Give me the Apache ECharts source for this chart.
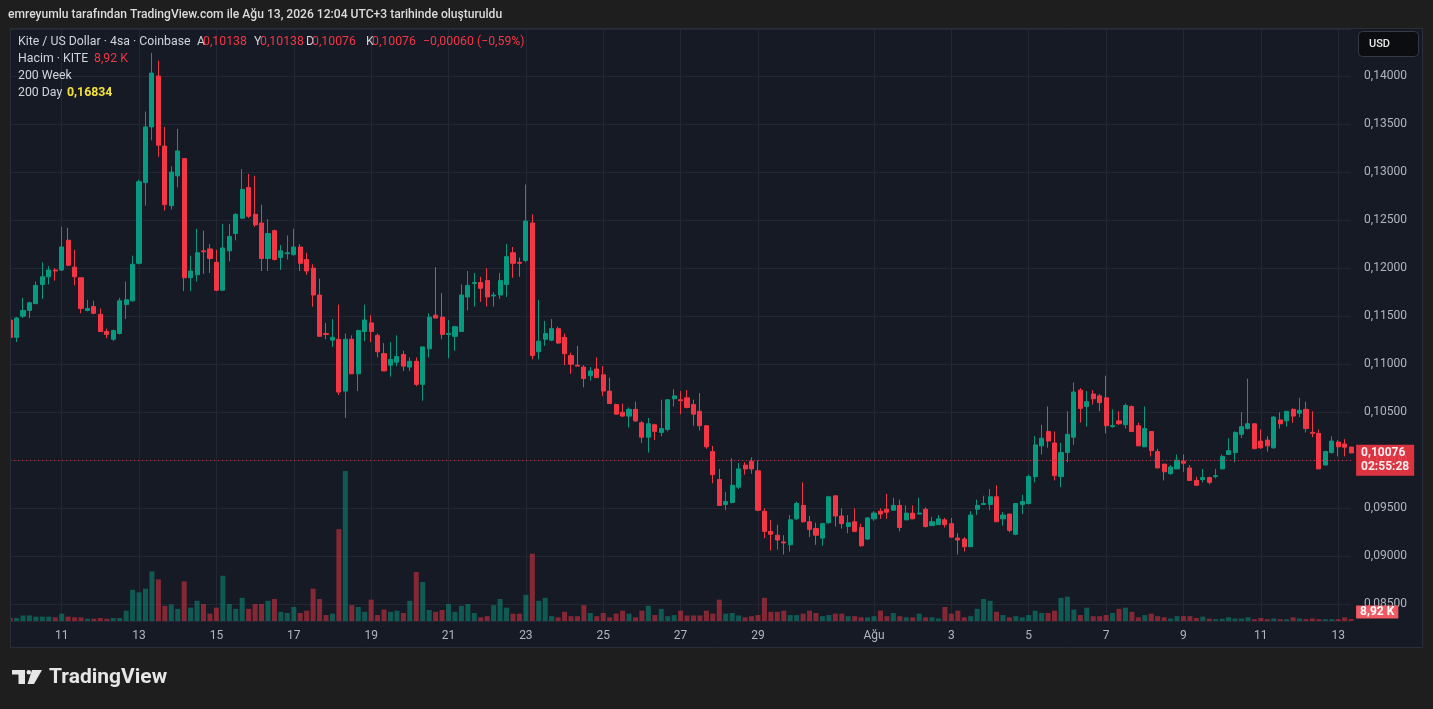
<!DOCTYPE html>
<html><head><meta charset="utf-8">
<script src="https://cdn.jsdelivr.net/npm/echarts@6/dist/echarts.min.js"></script>
<style>html,body{margin:0;padding:0;background:#1e1e1e;}#c{width:1433px;height:709px;}</style>
</head><body><div id="c"></div><script>
const opens = [
0.1146,0.1128,0.1150,0.1156,0.1163,0.1183,0.1191,0.1198,0.1198,0.1229,
0.1201,0.1190,0.1156,0.1160,0.1152,0.1134,0.1126,0.1132,0.1162,0.1166,
0.1205,0.1289,0.1347,0.1400,0.1327,0.1265,0.1296,0.1314,0.1190,0.1193,
0.1218,0.1220,0.1206,0.1177,0.1218,0.1236,0.1252,0.1284,0.1256,0.1247,
0.1210,0.1239,0.1211,0.1215,0.1214,0.1222,0.1209,0.1200,0.1172,0.1132,
0.1125,0.1126,0.1072,0.1126,0.1090,0.1134,0.1143,0.1130,0.1111,0.1099,
0.1102,0.1110,0.1097,0.1103,0.1079,0.1116,0.1151,0.1149,0.1131,0.1129,
0.1134,0.1170,0.1184,0.1185,0.1187,0.1171,0.1172,0.1183,0.1216,0.1206,
0.1208,0.1247,0.1113,0.1126,0.1125,0.1137,0.1128,0.1109,0.1099,0.1097,
0.1088,0.1095,0.1089,0.1072,0.1058,0.1050,0.1046,0.1053,0.1039,0.1024,
0.1037,0.1029,0.1032,0.1064,0.1063,0.1065,0.1058,0.1051,0.1036,0.1009,
0.0980,0.0954,0.0956,0.0972,0.0995,0.0999,0.0989,0.0947,0.0926,0.0922,
0.0915,0.0912,0.0939,0.0953,0.0936,0.0929,0.0919,0.0935,0.0963,0.0942,
0.0931,0.0936,0.0930,0.0918,0.0939,0.0947,0.0949,0.0948,0.0953,0.0938,
0.0945,0.0944,0.0949,0.0932,0.0933,0.0938,0.0934,0.0919,0.0918,0.0910,
0.0949,0.0954,0.0954,0.0962,0.0939,0.0944,0.0923,0.0954,0.0955,0.0983,
0.1015,0.1030,0.1018,0.0983,0.1008,0.1024,0.1073,0.1056,0.1069,0.1067,
0.1065,0.1035,0.1041,0.1037,0.1056,0.1036,0.1014,0.1030,0.1009,0.0996,
0.0986,0.0991,0.0999,0.0992,0.0979,0.0980,0.0982,0.0983,0.0991,0.1006,
0.1008,0.1027,0.1033,0.1038,0.1020,0.1021,0.1013,0.1042,0.1041,0.1053,
0.1049,0.1053,0.1029,0.1028,0.0995,0.1008,0.1019,0.1017,0.10138];
const closes = [
0.1128,0.1148,0.1156,0.1164,0.1182,0.1191,0.1198,0.1197,0.1222,0.1203,
0.1191,0.1158,0.1158,0.1153,0.1134,0.1131,0.1135,0.1166,0.1167,0.1204,
0.1290,0.1347,0.1403,0.1328,0.1266,0.1300,0.1322,0.1190,0.1197,0.1216,
0.1217,0.1210,0.1177,0.1221,0.1233,0.1256,0.1282,0.1254,0.1245,0.1210,
0.1236,0.1209,0.1218,0.1216,0.1222,0.1205,0.1197,0.1172,0.1129,0.1131,
0.1128,0.1071,0.1126,0.1090,0.1135,0.1146,0.1134,0.1113,0.1093,0.1105,
0.1108,0.1098,0.1103,0.1079,0.1118,0.1149,0.1148,0.1131,0.1132,0.1139,
0.1172,0.1182,0.1185,0.1179,0.1170,0.1172,0.1187,0.1212,0.1205,0.1205,
0.1249,0.1109,0.1124,0.1132,0.1137,0.1122,0.1111,0.1100,0.1098,0.1085,
0.1093,0.1086,0.1072,0.1059,0.1048,0.1046,0.1053,0.1041,0.1024,0.1038,
0.1030,0.1033,0.1063,0.1067,0.1062,0.1055,0.1048,0.1036,0.1014,0.0985,
0.0953,0.0957,0.0974,0.0991,0.0991,0.0991,0.0948,0.0926,0.0923,0.0917,
0.0914,0.0938,0.0955,0.0936,0.0928,0.0922,0.0934,0.0962,0.0942,0.0934,
0.0935,0.0926,0.0911,0.0940,0.0945,0.0944,0.0946,0.0953,0.0930,0.0945,
0.0939,0.0945,0.0931,0.0936,0.0939,0.0933,0.0920,0.0917,0.0910,0.0943,
0.0953,0.0955,0.0962,0.0936,0.0943,0.0927,0.0955,0.0957,0.0983,0.1016,
0.1023,0.1020,0.0984,0.1008,0.1027,0.1071,0.1054,0.1061,0.1064,0.1060,
0.1036,0.1036,0.1038,0.1057,0.1030,0.1015,0.1033,0.1010,0.0992,0.0988,
0.0993,0.1000,0.0997,0.0979,0.0974,0.0982,0.0977,0.0984,0.1004,0.1010,
0.1029,0.1035,0.1038,0.1012,0.1013,0.1015,0.1045,0.1038,0.1051,0.1046,
0.1052,0.1033,0.1028,0.0991,0.1009,0.1020,0.1014,0.10136,0.10076];
const lows = [
0.1126,0.1123,0.1148,0.1148,0.1163,0.1168,0.1183,0.1187,0.1197,0.1202,
0.1182,0.1153,0.1155,0.1152,0.1134,0.1127,0.1124,0.1131,0.1147,0.1165,
0.1204,0.1265,0.1333,0.1316,0.1260,0.1261,0.1284,0.1176,0.1176,0.1186,
0.1194,0.1195,0.1176,0.1177,0.1207,0.1229,0.1251,0.1252,0.1243,0.1197,
0.1197,0.1208,0.1198,0.1209,0.1213,0.1197,0.1193,0.1160,0.1129,0.1126,
0.1118,0.1068,0.1044,0.1090,0.1072,0.1124,0.1123,0.1107,0.1093,0.1087,
0.1098,0.1093,0.1093,0.1077,0.1062,0.1107,0.1148,0.1126,0.1106,0.1114,
0.1134,0.1156,0.1160,0.1165,0.1160,0.1160,0.1168,0.1170,0.1190,0.1191,
0.1206,0.1105,0.1105,0.1119,0.1124,0.1121,0.1099,0.1090,0.1098,0.1076,
0.1083,0.1086,0.1067,0.1059,0.1048,0.1045,0.1034,0.1040,0.1018,0.1008,
0.1021,0.1025,0.1030,0.1056,0.1048,0.1054,0.1036,0.1031,0.1012,0.0976,
0.0953,0.0948,0.0955,0.0970,0.0985,0.0986,0.0947,0.0919,0.0906,0.0907,
0.0902,0.0905,0.0938,0.0935,0.0920,0.0912,0.0911,0.0934,0.0931,0.0929,
0.0924,0.0925,0.0910,0.0917,0.0937,0.0939,0.0939,0.0948,0.0926,0.0938,
0.0939,0.0944,0.0930,0.0932,0.0933,0.0930,0.0920,0.0902,0.0905,0.0910,
0.0943,0.0954,0.0948,0.0936,0.0932,0.0925,0.0922,0.0944,0.0954,0.0977,
0.1006,0.1013,0.0979,0.0972,0.0998,0.1016,0.1039,0.1035,0.1058,0.1051,
0.1028,0.1034,0.1037,0.1033,0.1030,0.1015,0.1014,0.1004,0.0992,0.0979,
0.0985,0.0991,0.0988,0.0979,0.0973,0.0977,0.0975,0.0981,0.0991,0.1006,
0.0998,0.1023,0.1032,0.1012,0.1012,0.1009,0.1012,0.1033,0.1035,0.1039,
0.1045,0.1029,0.1024,0.0991,0.0995,0.1007,0.1004,0.1004,0.10076];
const highs = [
0.1148,0.1149,0.1169,0.1165,0.1186,0.1206,0.1202,0.1200,0.1243,0.1242,
0.1219,0.1190,0.1167,0.1166,0.1158,0.1137,0.1136,0.1169,0.1186,0.1213,
0.1292,0.1363,0.1424,0.1416,0.1347,0.1306,0.1345,0.1314,0.1213,0.1241,
0.1239,0.1225,0.1219,0.1246,0.1246,0.1257,0.1303,0.1298,0.1296,0.1266,
0.1251,0.1240,0.1224,0.1234,0.1241,0.1225,0.1216,0.1204,0.1189,0.1143,
0.1147,0.1162,0.1132,0.1130,0.1136,0.1162,0.1151,0.1132,0.1122,0.1123,
0.1130,0.1114,0.1107,0.1107,0.1118,0.1153,0.1201,0.1174,0.1146,0.1140,
0.1183,0.1197,0.1195,0.1191,0.1200,0.1175,0.1195,0.1225,0.1222,0.1211,
0.1287,0.1256,0.1167,0.1145,0.1147,0.1139,0.1132,0.1112,0.1119,0.1099,
0.1097,0.1107,0.1098,0.1086,0.1059,0.1059,0.1055,0.1061,0.1041,0.1044,
0.1038,0.1063,0.1063,0.1074,0.1072,0.1073,0.1063,0.1070,0.1036,0.1015,
0.0991,0.0967,0.1002,0.0997,0.0998,0.1003,0.1000,0.0950,0.0938,0.0933,
0.0922,0.0943,0.0957,0.0977,0.0942,0.0935,0.0935,0.0963,0.0963,0.0950,
0.0943,0.0950,0.0934,0.0941,0.0947,0.0950,0.0965,0.0961,0.0959,0.0953,
0.0953,0.0961,0.0951,0.0941,0.0943,0.0940,0.0940,0.0924,0.0920,0.0947,
0.0959,0.0963,0.0970,0.0974,0.0946,0.0944,0.0955,0.0964,0.0985,0.1025,
0.1037,0.1056,0.1030,0.1018,0.1051,0.1081,0.1075,0.1072,0.1073,0.1069,
0.1088,0.1053,0.1051,0.1059,0.1057,0.1039,0.1056,0.1030,0.1012,0.0996,
0.0995,0.1006,0.1006,0.0995,0.0983,0.0991,0.0983,0.0991,0.1006,0.1023,
0.1030,0.1050,0.1085,0.1038,0.1032,0.1025,0.1046,0.1050,0.1051,0.1054,
0.1065,0.1061,0.1051,0.1032,0.1010,0.1025,0.1021,0.1022,0.10138];
// volume in thousands of KITE
const volumes = [
13,13,24,24,19,19,19,16,32,19,
16,16,10,10,13,10,13,13,45,136,
125,141,216,181,66,72,53,173,58,88,
74,32,58,197,74,53,101,53,74,74,
88,96,40,35,61,35,45,141,96,26,
32,400,653,69,61,40,93,26,50,40,
45,35,88,213,170,48,40,48,74,40,
66,74,35,16,21,69,96,58,32,32,
114,293,88,101,21,16,40,21,21,69,
35,21,35,16,32,45,32,16,45,66,
26,53,21,26,45,24,24,24,45,32,
93,32,35,24,16,21,26,101,40,40,
45,26,26,32,45,35,21,26,32,32,
21,21,16,16,21,45,21,35,21,16,
16,32,16,16,11,61,32,45,16,21,
53,96,88,40,26,16,21,16,26,45,
35,35,45,101,106,50,26,58,21,21,
26,35,53,58,40,16,26,32,21,16,
11,21,21,21,13,19,10,8,10,16,
11,11,16,8,13,8,11,8,8,16,
11,8,11,8,8,8,8,16,8.92];
const tickDates = ['2026-07-11','2026-07-13','2026-07-15','2026-07-17','2026-07-19','2026-07-21','2026-07-23','2026-07-25','2026-07-27','2026-07-29','2026-08-01','2026-08-03','2026-08-05','2026-08-07','2026-08-09','2026-08-11','2026-08-13'];
const tickLabels = ['11','13','15','17','19','21','23','25','27','29','Ağu','3','5','7','9','11','13'];
const lastPrice = 0.10076;
const lastVolume = 8.92;

// 4-hour candle timestamps
const startTime = Date.UTC(2026, 6, 9, 16);
const categories = opens.map((_, i) => new Date(startTime + i * 4 * 3600 * 1000).toISOString().slice(0, 16).replace('T', ' '));
const tickMap = {};
tickDates.forEach((d, k) => { tickMap[d + ' 00:00'] = tickLabels[k]; });

const UP = '#089981', DOWN = '#f23645';
const FONT = 'Roboto, "Noto Sans", sans-serif';
const candleData = opens.map((o, i) => [o, closes[i], lows[i], highs[i]]);
const volData = volumes.map((v, i) => ({
  value: v,
  itemStyle: { color: closes[i] >= opens[i] ? 'rgba(8,153,129,0.5)' : 'rgba(242,54,69,0.5)' }
}));
const fmt = v => v.toFixed(5).replace('.', ',');

const chart = echarts.init(document.getElementById('c'));
const LS = 12.3;
const txt = (x, y, text, fill, size, weight) => ({
  type: 'text', x, y, z: 60,
  style: { text, fill, font: (weight || 'normal') + ' ' + size + 'px ' + FONT, verticalAlign: 'middle' }
});
chart.setOption({
  backgroundColor: '#1e1e1e',
  animation: false,
  textStyle: { fontFamily: FONT },
  graphic: [
    { type: 'rect', z: -10, shape: { x: 10.5, y: 28.5, width: 1412, height: 619 }, style: { fill: '#161a25' } },
    { type: 'rect', z: 50, shape: { x: 0, y: 28, width: 10, height: 621 }, style: { fill: '#1e1e1e' } },
    { type: 'rect', z: 51, shape: { x: 10.5, y: 28.5, width: 1412, height: 619 }, style: { fill: null, stroke: '#2a2e39', lineWidth: 1 } },
    txt(8, 15, 'emreyumlu tarafından TradingView.com ile Ağu 13, 2026 12:04 UTC+3 tarihinde oluşturuldu', '#dcdcdc', 12.1, 500),
    txt(18, 42, 'Kite / US Dollar · 4sa · Coinbase', '#d1d4dc', LS),
    txt(197, 42, 'A', '#d1d4dc', LS), txt(203, 42, '0,10138', DOWN, LS),
    txt(254, 42, 'Y', '#d1d4dc', LS), txt(260, 42, '0,10138', DOWN, LS),
    txt(306, 42, 'D', '#d1d4dc', LS), txt(312, 42, '0,10076', DOWN, LS),
    txt(366, 42, 'K', '#d1d4dc', LS), txt(372, 42, '0,10076', DOWN, LS),
    txt(423, 42, '−0,00060 (−0,59%)', DOWN, LS),
    txt(18, 59, 'Hacim · KITE', '#d1d4dc', LS), txt(94, 59, '8,92 K', DOWN, LS),
    txt(18, 76, '200 Week', '#d1d4dc', LS),
    txt(18, 93, '200 Day', '#d1d4dc', LS), txt(67, 93, '0,16834', '#f5e23a', LS, 'bold'),
    { type: 'rect', z: 60, shape: { x: 1358.5, y: 31.5, width: 60, height: 25, r: 4 }, style: { fill: '#0c0d10', stroke: '#363a45', lineWidth: 1 } },
    { type: 'text', z: 61, x: 1369, y: 44.5, style: { text: 'USD', fill: '#e8e8e8', font: '500 11px ' + FONT, verticalAlign: 'middle' } },
    { type: 'rect', z: 60, shape: { x: 12, y: 670, width: 13, height: 4.5 }, style: { fill: '#e6e6e6' } },
    { type: 'rect', z: 60, shape: { x: 18.5, y: 670, width: 6.5, height: 14 }, style: { fill: '#e6e6e6' } },
    { type: 'circle', z: 60, shape: { cx: 28.8, cy: 672.3, r: 2.3 }, style: { fill: '#e6e6e6' } },
    { type: 'polygon', z: 60, shape: { points: [[32, 670], [42, 670], [34, 684], [27.5, 684]] }, style: { fill: '#e6e6e6' } },
    { type: 'text', z: 60, x: 49, y: 678, style: { text: 'TradingView', fill: '#e6e6e6', font: 'bold 21px ' + FONT, verticalAlign: 'middle' } }
  ],
  grid: [
    { left: 10.1, right: 1433 - 1351.1, top: 29, bottom: 709 - 621 },
    { left: 10.1, right: 1433 - 1351.1, top: 471, bottom: 709 - 621 }
  ],
  xAxis: [
    {
      type: 'category', gridIndex: 0, data: categories, boundaryGap: false,
      axisLine: { show: false }, axisTick: { show: false },
      axisLabel: {
        interval: (i, v) => tickMap[v] !== undefined,
        formatter: v => tickMap[v] || '',
        color: '#b2b5be', fontSize: 12, margin: 9, fontFamily: FONT
      },
      splitLine: { show: true, interval: (i, v) => tickMap[v] !== undefined, lineStyle: { color: '#232733', width: 1 } }
    },
    { type: 'category', gridIndex: 1, data: categories, boundaryGap: false, show: false }
  ],
  yAxis: [
    {
      type: 'value', gridIndex: 0, position: 'right', min: 0.08327, max: 0.14489, splitNumber: 12,
      axisLine: { show: false }, axisTick: { show: false },
      axisLabel: { formatter: fmt, color: '#b2b5be', fontSize: 12, margin: 13, showMinLabel: false, showMaxLabel: false, fontFamily: FONT },
      splitLine: { show: true, lineStyle: { color: '#232733', width: 1 } }
    },
    { type: 'value', gridIndex: 1, min: 0, max: 'dataMax', show: false, splitLine: { show: false } }
  ],
  series: [
    {
      type: 'bar', xAxisIndex: 1, yAxisIndex: 1, data: volData, barWidth: '78%', clip: false, silent: true, z: 1,
      markLine: {
        silent: true, symbol: ['none', 'none'],
        lineStyle: { color: 'rgba(0,0,0,0)', width: 0 },
        data: [{ yAxis: lastVolume }],
        label: {
          show: true, position: 'end', distance: 5, offset: [0, -7],
          formatter: '8,92 K', color: '#ffffff', backgroundColor: '#ef5a63',
          padding: [1, 4, 0, 4], fontSize: 12, fontWeight: 'bold', fontFamily: FONT
        }
      }
    },
    {
      type: 'candlestick', xAxisIndex: 0, yAxisIndex: 0, data: candleData, barWidth: 4.6, clip: false, silent: true, z: 3,
      itemStyle: { color: UP, color0: DOWN, borderColor: UP, borderColor0: DOWN, borderWidth: 1 },
      markLine: {
        silent: true, symbol: ['none', 'none'],
        lineStyle: { color: DOWN, type: [1, 3], width: 1, opacity: 0.9 },
        data: [{ yAxis: lastPrice }],
        label: {
          show: true, position: 'end', distance: 5,
          formatter: fmt(lastPrice) + '\n02:55:28', color: '#ffffff', backgroundColor: DOWN,
          padding: [2, 5, 1, 5], fontSize: 12, fontWeight: 'bold', lineHeight: 14, fontFamily: FONT
        }
      }
    }
  ]
});
</script></body></html>
